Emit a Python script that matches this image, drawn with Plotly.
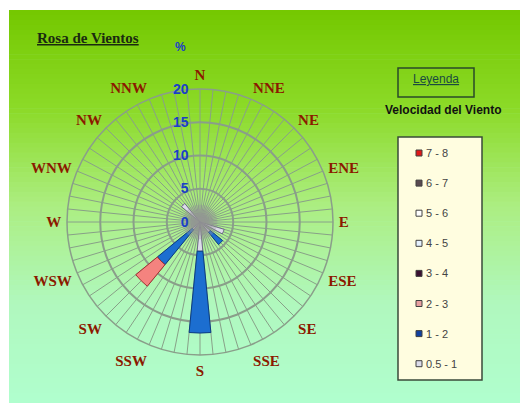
import numpy as np
import plotly.graph_objects as go

W, H = 520, 403

directions = ["N", "NNE", "NE", "ENE", "E", "ESE", "SE", "SSE",
              "S", "SSW", "SW", "WSW", "W", "WNW", "NW", "NNW"]
dir_angles = [i * 22.5 for i in range(16)]

speed_classes = ["0.5 - 1", "1 - 2", "2 - 3", "3 - 4", "4 - 5", "5 - 6", "6 - 7", "7 - 8"]
# frequency (%) per direction for each speed class
freq_05_1 = [0, 0, 0, 0, 0, 3.8, 2.0, 0, 4.4, 0, 1.5, 0, 0, 0, 3.6, 0]
freq_1_2 = [0, 0, 0, 0, 0, 0, 2.4, 0, 12.3, 0, 6.8, 0, 0, 0, 0, 0]
freq_2_3 = [0, 0, 0, 0, 0, 0, 0, 0, 0, 0, 4.2, 0, 0, 0, 0, 0]
freq_3_4 = [0] * 16
freq_4_5 = [0] * 16
freq_5_6 = [0] * 16
freq_6_7 = [0] * 16
freq_7_8 = [0] * 16
series = [freq_05_1, freq_1_2, freq_2_3, freq_3_4, freq_4_5, freq_5_6, freq_6_7, freq_7_8]

bar_colors = ["#DCDCEA", "#1C6ED0", "#F4837F", "#3A1030", "#E6F2FF", "#FFFFFF", "#5A4A50", "#E01818"]
bar_lines = ["#6A6A80", "#0A3C80", "#A03030", "#200010", "#5070A0", "#606060", "#302020", "#800000"]

radial_ticks = [0, 5, 10, 15, 20]

fig = go.Figure()

def px(x):
    return x / W
def py(y):
    return 1 - y / H

# background gradient (top yellow-green to bottom mint)
stops = [(0.0, (116, 200, 0)), (0.25, (140, 218, 40)), (0.5, (172, 238, 130)),
         (0.75, (176, 248, 190)), (1.0, (176, 254, 206))]
def grad(t):
    for (t0, c0), (t1, c1) in zip(stops[:-1], stops[1:]):
        if t0 <= t <= t1:
            f = (t - t0) / (t1 - t0)
            return tuple(int(round(a + (b - a) * f)) for a, b in zip(c0, c1))
    return stops[-1][1]

top, bot, left = 10, H, 9
nb = 80
for i in range(nb):
    y0 = top + (bot - top) * i / nb
    y1 = top + (bot - top) * (i + 1) / nb + 0.6
    c = grad((i + 0.5) / nb)
    fig.add_shape(type="rect", xref="paper", yref="paper", layer="below",
                  x0=px(left), x1=1.05, y0=py(y1), y1=py(y0),
                  fillcolor="rgb(%d,%d,%d)" % c, line=dict(width=0))

# bars
for name, vals, col, lc in zip(speed_classes, series, bar_colors, bar_lines):
    if not any(vals):
        continue
    fig.add_trace(go.Barpolar(r=vals, theta=dir_angles, width=11.25, name=name,
                              marker=dict(color=col, line=dict(color=lc, width=1)),
                              showlegend=False))

# grey hub at centre
ring = np.linspace(0, 360, 73)
for rr in [2.6, 2.0, 1.4, 0.8]:
    fig.add_trace(go.Scatterpolar(r=[rr] * len(ring), theta=ring, mode="lines", fill="toself",
                                  fillcolor="rgba(150,150,150,0.36)", line=dict(width=0),
                                  hoverinfo="skip", showlegend=False))

spoke_vals = [i * 5.625 for i in range(64)]
spoke_text = ["<b>%s</b>" % directions[i // 4] if i % 4 == 0 else "" for i in range(64)]

cx, cy, R = 200, 222, 133
fig.update_layout(
    width=W, height=H, margin=dict(l=0, r=0, t=0, b=0),
    paper_bgcolor="#B0FECE", showlegend=False,
    polar=dict(
        domain=dict(x=[(cx - R) / W, (cx + R) / W], y=[1 - (cy + R) / H, 1 - (cy - R) / H]),
        bgcolor="rgba(0,0,0,0)",
        barmode="stack",
        angularaxis=dict(direction="clockwise", rotation=90, tickmode="array",
                         tickvals=spoke_vals, ticktext=spoke_text,
                         showgrid=True, gridcolor="#88A088", gridwidth=1,
                         showline=True, linecolor="#8A9E8A", linewidth=1.5,
                         ticks="outside", ticklen=2, tickcolor="rgba(0,0,0,0)",
                         tickfont=dict(family="Liberation Serif", size=15, color="#8B1A00")),
        radialaxis=dict(range=[0, 20], tickmode="array", tickvals=radial_ticks,
                        ticktext=["<b>%d</b>" % v for v in radial_ticks],
                        angle=90, tickangle=90, side="counterclockwise",
                        showline=False, ticks="outside", ticklen=6, tickcolor="rgba(0,0,0,0)",
                        gridcolor="#8A9E8A", gridwidth=1.5,
                        tickfont=dict(family="Liberation Sans", size=14, color="#1A3FC8")),
    ),
)

# white page strips at top and left
fig.add_shape(type="rect", xref="paper", yref="paper", layer="below",
              x0=0, x1=1.05, y0=py(top), y1=1, fillcolor="white", line=dict(width=0))
fig.add_shape(type="rect", xref="paper", yref="paper", layer="below",
              x0=0, x1=px(left), y0=0, y1=1, fillcolor="white", line=dict(width=0))

# titles
fig.add_annotation(x=px(35), y=py(38), xref="paper", yref="paper", xanchor="left", yanchor="middle",
                   text="<b><u>Rosa de Vientos</u></b>", showarrow=False,
                   font=dict(family="Liberation Serif", size=15, color="#1A2A10"))
fig.add_annotation(x=px(180), y=py(47), xref="paper", yref="paper", xanchor="center", yanchor="middle",
                   text="<b>%</b>", showarrow=False,
                   font=dict(family="Liberation Sans", size=12, color="#1A3FC8"))

# legend heading
fig.add_shape(type="rect", xref="paper", yref="paper", x0=px(398), x1=px(474), y0=py(97), y1=py(68),
              line=dict(color="#2A4A2A", width=1.5))
fig.add_annotation(x=px(436), y=py(79), xref="paper", yref="paper", xanchor="center", yanchor="middle",
                   showarrow=False, text="<u>Leyenda</u>",
                   font=dict(family="Liberation Sans", size=12, color="#1A4A40"))
fig.add_annotation(x=px(443), y=py(110), xref="paper", yref="paper", xanchor="center", yanchor="middle",
                   showarrow=False, text="<b>Velocidad del Viento</b>",
                   font=dict(family="Liberation Sans", size=12, color="#111111"))

# legend box
fig.add_shape(type="rect", xref="paper", yref="paper", x0=px(398), x1=px(482), y0=py(380), y1=py(137),
              fillcolor="#FFFDE0", line=dict(color="#3A4A3A", width=1.5))
legend_marker = ["#DCDCEA", "#1040A0", "#E8A0A0", "#3A1030", "#E6F2FF", "#FFFFFF", "#5A4A50", "#E01818"]
for k, (name, mc) in enumerate(zip(reversed(speed_classes), reversed(legend_marker))):
    yy = 153 + k * 30.1
    fig.add_shape(type="rect", xref="paper", yref="paper", x0=px(416), x1=px(422),
                  y0=py(yy + 3), y1=py(yy - 3), fillcolor=mc, line=dict(color="#404040", width=1))
    fig.add_annotation(x=px(424), y=py(yy), xref="paper", yref="paper", xanchor="left", yanchor="middle",
                       showarrow=False, text=name,
                       font=dict(family="Liberation Sans", size=11, color="#444444"))

fig.write_html("out.html", config={"displayModeBar": False},
               post_script="document.documentElement.style.overflow='hidden';"
                           "document.body.style.overflow='hidden';"
                           "document.body.style.margin='0px';")
